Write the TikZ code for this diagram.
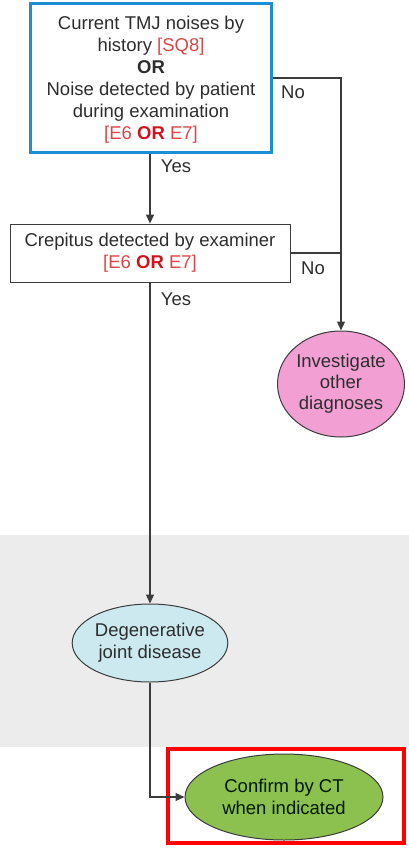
\documentclass[tikz,border=0pt]{standalone}
\usepackage{fontspec}
\setmainfont{Liberation Sans}
\usetikzlibrary{arrows.meta,shapes.geometric}
\definecolor{boxblue}{RGB}{28,142,214}
\definecolor{txtgray}{RGB}{45,45,45}
\definecolor{linegray}{RGB}{60,60,60}
\definecolor{refred}{RGB}{222,70,70}
\definecolor{orred}{RGB}{205,20,30}
\definecolor{pinkfill}{RGB}{242,160,212}
\definecolor{djdfill}{RGB}{204,233,239}
\definecolor{ctfill}{RGB}{140,193,80}
\definecolor{band}{RGB}{236,236,236}
\newcommand{\refs}[1]{\textcolor{refred}{#1}}
\newcommand{\orword}{\textcolor{orred}{\bfseries OR}}
\tikzset{
  txt/.style={font=\fontsize{18.5}{22}\selectfont, text=txtgray, align=center},
  decision/.style={txt, rectangle, inner sep=0pt},
  outcome/.style={txt, ellipse, draw=linegray, line width=1pt, inner sep=0pt},
  conn/.style={draw=linegray, line width=1.2pt},
  arr/.style={conn, -{Triangle[length=9pt,width=8pt]}},
  lbl/.style={txt}
}
\begin{document}
\begin{tikzpicture}[x=1pt,y=-1pt]
\useasboundingbox (0,0) rectangle (409,848);
% shaded band behind the diagnosis
\fill[band] (0,535) rectangle (409,747);

% decision boxes
\node[decision, draw=boxblue, line width=3pt, minimum width=241pt, minimum height=149pt, text depth=0pt] (q1) at (151,78)
  {\rule{0pt}{4pt}Current TMJ noises by\\ history \refs{[SQ8]}\\ {\bfseries OR}\\ Noise detected by patient\\ during examination\\ \refs{[E6 \orword{} E7]}};
\node[decision, draw=linegray, line width=0.8pt, minimum width=280pt, minimum height=58pt] (q2) at (150,253)
  {Crepitus detected by examiner\\ \refs{[E6 \orword{} E7]}};

% outcomes
\node[outcome, fill=pinkfill, minimum width=127pt, minimum height=106pt, font=\fontsize{18.5}{21}\selectfont] (other) at (341,384)
  {Investigate\\ other\\ diagnoses};
\node[outcome, fill=djdfill, minimum width=150pt, minimum height=78pt] (djd) at (150,643)
  {Degenerative\\ joint disease};
\node[outcome, fill=ctfill, minimum width=198pt, minimum height=86pt, text=black!85!green!60!black] (ct) at (284,797)
  {Confirm by CT\\ when indicated};

% highlight frame
\node[draw=red, line width=4pt, minimum width=236pt, minimum height=94pt, inner sep=0pt] (hl) at (285.5,795.5) {};

% connectors
\draw[arr] (q2.north |- q1.south) -- (q2.north);
\draw[arr] (q1.east) -| (other.north);
\draw[conn] (q2.east) -- (q2.east -| other.north);
\draw[arr] (q2.south) -- (djd.north);
\draw[arr] (djd.south) |- (ct.west);

% branch labels
\node[lbl] (y1) at (176,166) {Yes};
\node[lbl] (n1) at (293,92) {No};
\node[lbl] (n2) at (313,268) {No};
\node[lbl] (y2) at (176,299) {Yes};
\end{tikzpicture}
\end{document}
